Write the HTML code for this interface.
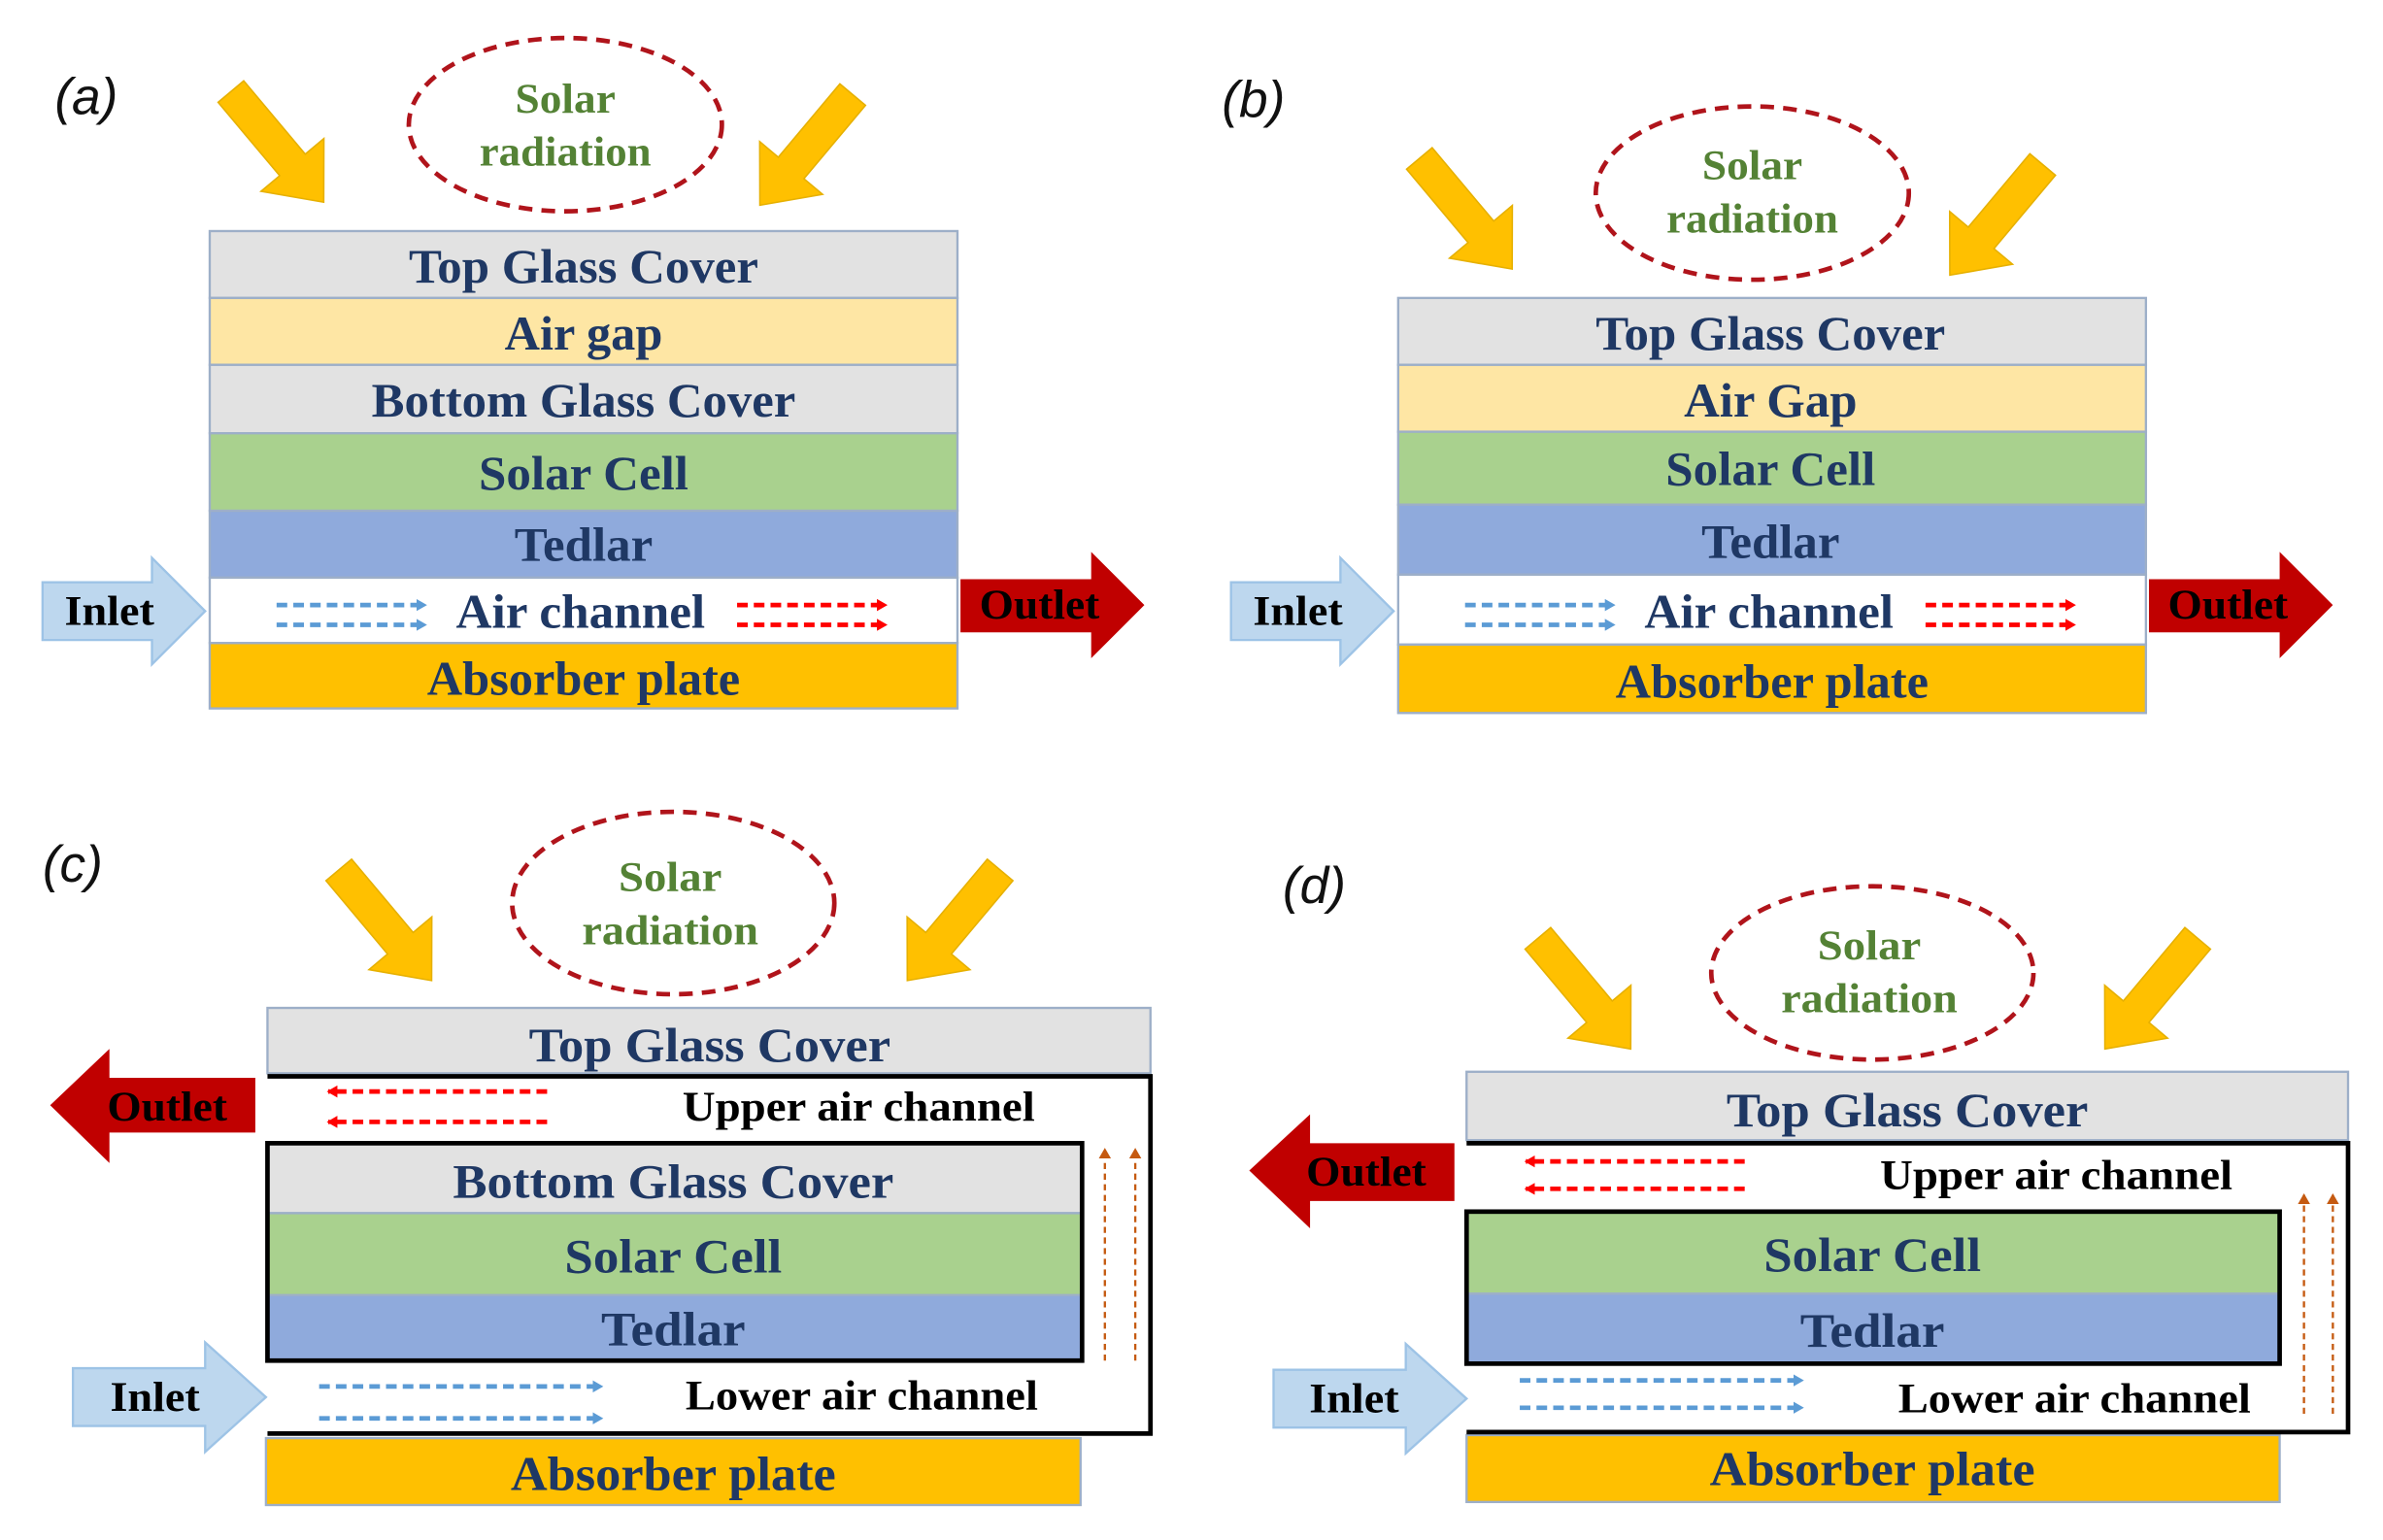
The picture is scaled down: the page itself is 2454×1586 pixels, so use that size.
<!DOCTYPE html>
<html><head><meta charset="utf-8"><style>
html,body{margin:0;padding:0;background:#fff;}
svg{display:block;}
.l{font-family:"Liberation Serif",serif;font-weight:bold;font-size:32px;fill:#1f3864;text-anchor:middle;}
.k{font-family:"Liberation Serif",serif;font-weight:bold;font-size:28px;fill:#000;text-anchor:middle;}
.s{font-family:"Liberation Serif",serif;font-weight:bold;font-size:28px;fill:#548235;text-anchor:middle;}
.p{font-family:"Liberation Sans",sans-serif;font-style:italic;font-size:34px;fill:#111;}
.e{fill:none;stroke:#b0141b;stroke-width:3;stroke-dasharray:9 6;}
.y{fill:#ffc000;stroke:#e6b000;stroke-width:1;}
.fr{fill:none;stroke:#000;stroke-width:3;}
</style></head><body>
<svg width="2454" height="1586" viewBox="0 0 1568 1013" preserveAspectRatio="none" xmlns="http://www.w3.org/2000/svg">
<defs>
<polygon id="ya" points="-95,-11 -32,-11 -32,-27 0,0 -32,27 -32,11 -95,11"/>
<marker id="mb" markerWidth="8" markerHeight="8" refX="6" refY="4" orient="auto" markerUnits="userSpaceOnUse"><path d="M0,0 L7,4 L0,8 z" fill="#5b9bd5"/></marker>
<marker id="mr" markerWidth="8" markerHeight="8" refX="6" refY="4" orient="auto" markerUnits="userSpaceOnUse"><path d="M0,0 L7,4 L0,8 z" fill="#ff0000"/></marker>
<marker id="mo" markerWidth="8" markerHeight="8" refX="6" refY="4" orient="auto" markerUnits="userSpaceOnUse"><path d="M0,0 L7,4 L0,8 z" fill="#c55a11"/></marker>
</defs>
<rect width="1568" height="1013" fill="#fff"/>

<!-- ===== (a) ===== -->
<text class="p" x="36" y="75">(a)</text>
<ellipse class="e" cx="372" cy="82" rx="103" ry="57"/>
<text class="s" x="372" y="74" textLength="66" lengthAdjust="spacingAndGlyphs">Solar</text>
<text class="s" x="372" y="109" textLength="113" lengthAdjust="spacingAndGlyphs">radiation</text>
<use href="#ya" class="y" transform="translate(213,133) rotate(50)"/>
<use href="#ya" class="y" transform="translate(500,135) rotate(130)"/>
<g stroke="#9dafc8" stroke-width="1.5">
<rect x="138" y="152" width="492" height="44" fill="#e2e2e2"/>
<rect x="138" y="196" width="492" height="44" fill="#fee6a4"/>
<rect x="138" y="240" width="492" height="45" fill="#e2e2e2"/>
<rect x="138" y="285" width="492" height="51" fill="#a9d18e"/>
<rect x="138" y="336" width="492" height="44" fill="#8faadc"/>
<rect x="138" y="380" width="492" height="43" fill="#fff"/>
<rect x="138" y="423" width="492" height="43" fill="#ffc000"/>
</g>
<g lengthAdjust="spacingAndGlyphs">
<text class="l" x="384" y="186" textLength="230" lengthAdjust="spacingAndGlyphs">Top Glass Cover</text>
<text class="l" x="384" y="230" textLength="104" lengthAdjust="spacingAndGlyphs">Air gap</text>
<text class="l" x="384" y="274" textLength="279" lengthAdjust="spacingAndGlyphs">Bottom Glass Cover</text>
<text class="l" x="384" y="322" textLength="138" lengthAdjust="spacingAndGlyphs">Solar Cell</text>
<text class="l" x="384" y="369" textLength="91" lengthAdjust="spacingAndGlyphs">Tedlar</text>
<text class="l" x="382" y="413" textLength="164" lengthAdjust="spacingAndGlyphs">Air channel</text>
<text class="l" x="384" y="457" textLength="206" lengthAdjust="spacingAndGlyphs">Absorber plate</text>
</g>
<polygon points="28,383 100,383 100,367 135,402 100,437 100,421 28,421" fill="#bdd7ee" stroke="#9dc3e6" stroke-width="1.5"/>
<text class="k" x="72" y="411" textLength="59" lengthAdjust="spacingAndGlyphs">Inlet</text>
<polygon points="632,381 718,381 718,363 753,398 718,433 718,416 632,416" fill="#c00000"/>
<text class="k" x="684" y="407" textLength="79" lengthAdjust="spacingAndGlyphs">Outlet</text>
<g stroke-width="3" stroke-dasharray="7 4" fill="none">
<line x1="182" y1="398" x2="280" y2="398" stroke="#5b9bd5" marker-end="url(#mb)"/>
<line x1="182" y1="411" x2="280" y2="411" stroke="#5b9bd5" marker-end="url(#mb)"/>
<line x1="485" y1="398" x2="583" y2="398" stroke="#ff0000" marker-end="url(#mr)"/>
<line x1="485" y1="411" x2="583" y2="411" stroke="#ff0000" marker-end="url(#mr)"/>
</g>

<!-- ===== (b) ===== -->
<text class="p" x="804" y="77">(b)</text>
<ellipse class="e" cx="1153" cy="127" rx="103" ry="57"/>
<text class="s" x="1153" y="118" textLength="66" lengthAdjust="spacingAndGlyphs">Solar</text>
<text class="s" x="1153" y="153" textLength="113" lengthAdjust="spacingAndGlyphs">radiation</text>
<use href="#ya" class="y" transform="translate(995,177) rotate(50)"/>
<use href="#ya" class="y" transform="translate(1283,181) rotate(130)"/>
<g stroke="#9dafc8" stroke-width="1.5">
<rect x="920" y="196" width="492" height="44" fill="#e2e2e2"/>
<rect x="920" y="240" width="492" height="44" fill="#fee6a4"/>
<rect x="920" y="284" width="492" height="48" fill="#a9d18e"/>
<rect x="920" y="332" width="492" height="46" fill="#8faadc"/>
<rect x="920" y="378" width="492" height="46" fill="#fff"/>
<rect x="920" y="424" width="492" height="45" fill="#ffc000"/>
</g>
<text class="l" x="1165" y="230" textLength="230" lengthAdjust="spacingAndGlyphs">Top Glass Cover</text>
<text class="l" x="1165" y="274" textLength="114" lengthAdjust="spacingAndGlyphs">Air Gap</text>
<text class="l" x="1165" y="319" textLength="138" lengthAdjust="spacingAndGlyphs">Solar Cell</text>
<text class="l" x="1165" y="367" textLength="91" lengthAdjust="spacingAndGlyphs">Tedlar</text>
<text class="l" x="1164" y="413" textLength="164" lengthAdjust="spacingAndGlyphs">Air channel</text>
<text class="l" x="1166" y="459" textLength="206" lengthAdjust="spacingAndGlyphs">Absorber plate</text>
<polygon points="810,383 882,383 882,367 917,402 882,437 882,421 810,421" fill="#bdd7ee" stroke="#9dc3e6" stroke-width="1.5"/>
<text class="k" x="854" y="411" textLength="59" lengthAdjust="spacingAndGlyphs">Inlet</text>
<polygon points="1414,381 1500,381 1500,363 1535,398 1500,433 1500,416 1414,416" fill="#c00000"/>
<text class="k" x="1466" y="407" textLength="79" lengthAdjust="spacingAndGlyphs">Outlet</text>
<g stroke-width="3" stroke-dasharray="7 4" fill="none">
<line x1="964" y1="398" x2="1062" y2="398" stroke="#5b9bd5" marker-end="url(#mb)"/>
<line x1="964" y1="411" x2="1062" y2="411" stroke="#5b9bd5" marker-end="url(#mb)"/>
<line x1="1267" y1="398" x2="1365" y2="398" stroke="#ff0000" marker-end="url(#mr)"/>
<line x1="1267" y1="411" x2="1365" y2="411" stroke="#ff0000" marker-end="url(#mr)"/>
</g>

<!-- ===== (c) ===== -->
<text class="p" x="28" y="580">(c)</text>
<ellipse class="e" cx="443" cy="594" rx="106" ry="60"/>
<text class="s" x="441" y="586" textLength="68" lengthAdjust="spacingAndGlyphs">Solar</text>
<text class="s" x="441" y="621" textLength="116" lengthAdjust="spacingAndGlyphs">radiation</text>
<use href="#ya" class="y" transform="translate(284,645) rotate(50)"/>
<use href="#ya" class="y" transform="translate(597,645) rotate(130)"/>
<g stroke="#9dafc8" stroke-width="1.5">
<rect x="176" y="663" width="581" height="43" fill="#e2e2e2"/>
<rect x="176" y="752" width="536" height="46" fill="#e2e2e2"/>
<rect x="176" y="798" width="536" height="54" fill="#a9d18e"/>
<rect x="176" y="852" width="536" height="43" fill="#8faadc"/>
<rect x="175" y="946" width="536" height="44" fill="#ffc000"/>
</g>
<rect class="fr" x="176" y="752" width="536" height="143"/>
<polyline class="fr" points="176,708 757,708 757,943 176,943"/>
<text class="l" x="467" y="698" textLength="238" lengthAdjust="spacingAndGlyphs">Top Glass Cover</text>
<text class="l" x="443" y="788" textLength="290" lengthAdjust="spacingAndGlyphs">Bottom Glass Cover</text>
<text class="l" x="443" y="837" textLength="143" lengthAdjust="spacingAndGlyphs">Solar Cell</text>
<text class="l" x="443" y="885" textLength="95" lengthAdjust="spacingAndGlyphs">Tedlar</text>
<text class="l" x="443" y="980" textLength="214" lengthAdjust="spacingAndGlyphs">Absorber plate</text>
<text class="k" x="565" y="737" textLength="232" lengthAdjust="spacingAndGlyphs">Upper air channel</text>
<text class="k" x="567" y="927" textLength="232" lengthAdjust="spacingAndGlyphs">Lower air channel</text>
<polygon points="48,900 135,900 135,883 175,919 135,955 135,938 48,938" fill="#bdd7ee" stroke="#9dc3e6" stroke-width="1.5"/>
<text class="k" x="102" y="928" textLength="59" lengthAdjust="spacingAndGlyphs">Inlet</text>
<polygon points="168,709 72,709 72,690 33,727 72,765 72,745 168,745" fill="#c00000"/>
<text class="k" x="110" y="737" textLength="79" lengthAdjust="spacingAndGlyphs">Outlet</text>
<g stroke-width="3" stroke-dasharray="7 4" fill="none">
<line x1="360" y1="718" x2="216" y2="718" stroke="#ff0000" marker-end="url(#mr)"/>
<line x1="360" y1="738" x2="216" y2="738" stroke="#ff0000" marker-end="url(#mr)"/>
<line x1="210" y1="912" x2="396" y2="912" stroke="#5b9bd5" marker-end="url(#mb)"/>
<line x1="210" y1="933" x2="396" y2="933" stroke="#5b9bd5" marker-end="url(#mb)"/>
</g>
<g stroke-width="1.5" stroke-dasharray="4 3" fill="none" stroke="#c55a11">
<line x1="727" y1="895" x2="727" y2="756" marker-end="url(#mo)"/>
<line x1="747" y1="895" x2="747" y2="756" marker-end="url(#mo)"/>
</g>

<!-- ===== (d) ===== -->
<text class="p" x="844" y="594">(d)</text>
<ellipse class="e" cx="1232" cy="640" rx="106" ry="57"/>
<text class="s" x="1230" y="631" textLength="68" lengthAdjust="spacingAndGlyphs">Solar</text>
<text class="s" x="1230" y="666" textLength="116" lengthAdjust="spacingAndGlyphs">radiation</text>
<use href="#ya" class="y" transform="translate(1073,690) rotate(50)"/>
<use href="#ya" class="y" transform="translate(1385,690) rotate(130)"/>
<g stroke="#9dafc8" stroke-width="1.5">
<rect x="965" y="705" width="580" height="45" fill="#e2e2e2"/>
<rect x="965" y="797" width="535" height="54" fill="#a9d18e"/>
<rect x="965" y="851" width="535" height="46" fill="#8faadc"/>
<rect x="965" y="944" width="535" height="44" fill="#ffc000"/>
</g>
<rect class="fr" x="965" y="797" width="535" height="100"/>
<polyline class="fr" points="965,752 1545,752 1545,942 965,942"/>
<text class="l" x="1255" y="741" textLength="238" lengthAdjust="spacingAndGlyphs">Top Glass Cover</text>
<text class="l" x="1232" y="836" textLength="143" lengthAdjust="spacingAndGlyphs">Solar Cell</text>
<text class="l" x="1232" y="886" textLength="95" lengthAdjust="spacingAndGlyphs">Tedlar</text>
<text class="l" x="1232" y="977" textLength="214" lengthAdjust="spacingAndGlyphs">Absorber plate</text>
<text class="k" x="1353" y="782" textLength="232" lengthAdjust="spacingAndGlyphs">Upper air channel</text>
<text class="k" x="1365" y="929" textLength="232" lengthAdjust="spacingAndGlyphs">Lower air channel</text>
<polygon points="838,901 925,901 925,884 965,920 925,956 925,939 838,939" fill="#bdd7ee" stroke="#9dc3e6" stroke-width="1.5"/>
<text class="k" x="891" y="929" textLength="59" lengthAdjust="spacingAndGlyphs">Inlet</text>
<polygon points="957,752 862,752 862,733 822,770 862,808 862,790 957,790" fill="#c00000"/>
<text class="k" x="899" y="780" textLength="79" lengthAdjust="spacingAndGlyphs">Outlet</text>
<g stroke-width="3" stroke-dasharray="7 4" fill="none">
<line x1="1148" y1="764" x2="1004" y2="764" stroke="#ff0000" marker-end="url(#mr)"/>
<line x1="1148" y1="782" x2="1004" y2="782" stroke="#ff0000" marker-end="url(#mr)"/>
<line x1="1000" y1="908" x2="1186" y2="908" stroke="#5b9bd5" marker-end="url(#mb)"/>
<line x1="1000" y1="926" x2="1186" y2="926" stroke="#5b9bd5" marker-end="url(#mb)"/>
</g>
<g stroke-width="1.5" stroke-dasharray="4 3" fill="none" stroke="#c55a11">
<line x1="1516" y1="930" x2="1516" y2="786" marker-end="url(#mo)"/>
<line x1="1535" y1="930" x2="1535" y2="786" marker-end="url(#mo)"/>
</g>
</svg>
</body></html>
